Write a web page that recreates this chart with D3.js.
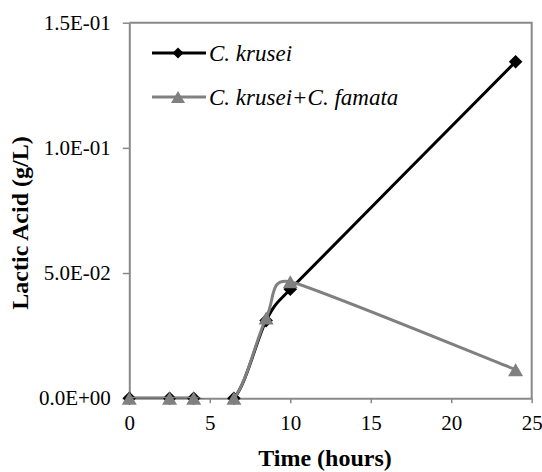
<!DOCTYPE html>
<html>
<head>
<meta charset="utf-8">
<script src="https://cdn.jsdelivr.net/npm/d3@7"></script>
<style>
  html, body { margin: 0; padding: 0; background: #fff; }
  svg { display: block; }
  svg text { font-family: "Liberation Serif", "Times New Roman", Times, Tinos, "Noto Serif", "DejaVu Serif", serif !important; }
</style>
</head>
<body>
<svg id="chart" width="542" height="472"></svg>
<script>
// ---- data ----
const timeHours = [0, 2.5, 4, 6.5, 8.5, 10, 24];
const krusei = [0, 0, 0, 0, 0.031, 0.0435, 0.1344];
const kruseiFamata = [0, 0, 0, 0, 0.032, 0.0465, 0.0114];
const seriesNames = ["C. krusei", "C. krusei+C. famata"];
const xTicks = [0, 5, 10, 15, 20, 25];
const yTicks = [0, 0.05, 0.1, 0.15];
const yTickLabels = ["0.0E+00", "5.0E-02", "1.0E-01", "1.5E-01"];

// ---- layout ----
const FONT = "'Liberation Serif', 'Times New Roman', Times, serif";
const svg = d3.select("#chart");
const L = 129.3, R = 531.7, T = 22.7, B = 398.2;
const x = d3.scaleLinear().domain([0, 25]).range([L, R]);
const y = d3.scaleLinear().domain([0, 0.15]).range([B, T]);
const axisColor = "#898989";
const greyColor = "#808080";

svg.append("defs").append("clipPath").attr("id", "plotclip")
  .append("rect").attr("x", L).attr("y", T).attr("width", R - L).attr("height", B - T);

// plot border (top and right)
svg.append("path")
  .attr("d", `M${L},${T}H${R}V${B}`)
  .attr("fill", "none").attr("stroke", axisColor).attr("stroke-width", 2);

// x axis
const xAxis = svg.append("g").attr("transform", `translate(0,${B})`)
  .call(d3.axisBottom(x).tickValues(xTicks).tickSize(5).tickPadding(12).tickSizeOuter(0));
xAxis.attr("font-family", FONT);
xAxis.select(".domain").attr("stroke", axisColor).attr("stroke-width", 2);
xAxis.selectAll(".tick line").attr("stroke", axisColor).attr("stroke-width", 1.5);
xAxis.selectAll(".tick text").attr("font-size", 21).attr("fill", "#000");

// y axis
const yAxis = svg.append("g").attr("transform", `translate(${L},0)`)
  .call(d3.axisLeft(y).tickValues(yTicks).tickFormat((d, i) => yTickLabels[i])
    .tickSize(6.5).tickPadding(12).tickSizeOuter(0));
yAxis.attr("font-family", FONT);
yAxis.select(".domain").attr("stroke", axisColor).attr("stroke-width", 2);
yAxis.selectAll(".tick line").attr("stroke", axisColor).attr("stroke-width", 1.5);
yAxis.selectAll(".tick text").attr("font-size", 21).attr("fill", "#000");

// axis titles
svg.append("text").attr("x", 325).attr("y", 466).attr("font-family", FONT)
  .attr("text-anchor", "middle").attr("font-size", 24).attr("font-weight", "bold")
  .text("Time (hours)");
svg.append("text").attr("transform", "translate(28,223) rotate(-90)").attr("font-family", FONT)
  .attr("text-anchor", "middle").attr("font-size", 24).attr("font-weight", "bold")
  .text("Lactic Acid (g/L)");

// ---- smoothed line (spreadsheet-style Bezier smoothing) ----
function smoothPath(pts) {
  const n = pts.length;
  const dist = (a, b) => Math.hypot(b[0] - a[0], b[1] - a[1]);
  const ctrl = pts.map((p, i) => {
    const prev = pts[Math.max(0, i - 1)], next = pts[Math.min(n - 1, i + 1)];
    const t = [next[0] - prev[0], next[1] - prev[1]];
    const d02 = Math.hypot(t[0], t[1]) || 1;
    let f = 1 / 6;
    if (i > 0 && i < n - 1) {
      f = Math.min(f, dist(prev, p) / (2 * d02), dist(p, next) / (2 * d02));
    }
    return { inn: [p[0] - t[0] * f, p[1] - t[1] * f], out: [p[0] + t[0] * f, p[1] + t[1] * f] };
  });
  const path = d3.path();
  path.moveTo(pts[0][0], pts[0][1]);
  for (let i = 1; i < n; i++) {
    const c1 = ctrl[i - 1].out, c2 = ctrl[i].inn;
    path.bezierCurveTo(c1[0], c1[1], c2[0], c2[1], pts[i][0], pts[i][1]);
  }
  return path.toString();
}
const diamond = s => `M0,${-s}L${s},0L0,${s}L${-s},0Z`;
const triangle = w => { const h = w * 0.866; return `M0,${-h/2}L${w/2},${h/2}L${-w/2},${h/2}Z`; };

const dataK = timeHours.map((t, i) => [t, krusei[i]]);
const dataKF = timeHours.map((t, i) => [t, kruseiFamata[i]]);
const toPx = d => [x(d[0]), y(d[1])];

svg.append("path").attr("d", smoothPath(dataK.map(toPx))).attr("clip-path", "url(#plotclip)")
  .attr("fill", "none").attr("stroke", "#000").attr("stroke-width", 3);
svg.selectAll(".mk").data(dataK).enter().append("path")
  .attr("d", diamond(6.8))
  .attr("transform", d => `translate(${x(d[0])},${y(d[1])})`)
  .attr("fill", "#000");

svg.append("path").attr("d", smoothPath(dataKF.map(toPx))).attr("clip-path", "url(#plotclip)")
  .attr("fill", "none").attr("stroke", greyColor).attr("stroke-width", 3);
svg.selectAll(".mt").data(dataKF).enter().append("path")
  .attr("d", triangle(15))
  .attr("transform", d => `translate(${x(d[0])},${y(d[1])})`)
  .attr("fill", greyColor);

// ---- legend ----
const legend = [
  { name: seriesNames[0], color: "#000", shape: diamond(5.5), y: 53 },
  { name: seriesNames[1], color: greyColor, shape: triangle(14), y: 97 }
];
legend.forEach(l => {
  svg.append("line").attr("x1", 152).attr("x2", 206).attr("y1", l.y).attr("y2", l.y)
    .attr("stroke", l.color).attr("stroke-width", 3);
  svg.append("path").attr("d", l.shape).attr("transform", `translate(178,${l.y})`)
    .attr("fill", l.color);
  svg.append("text").attr("x", 209).attr("y", l.y + 8).attr("font-family", FONT)
    .attr("font-size", 23).attr("font-style", "italic").text(l.name);
});
</script>
</body>
</html>
